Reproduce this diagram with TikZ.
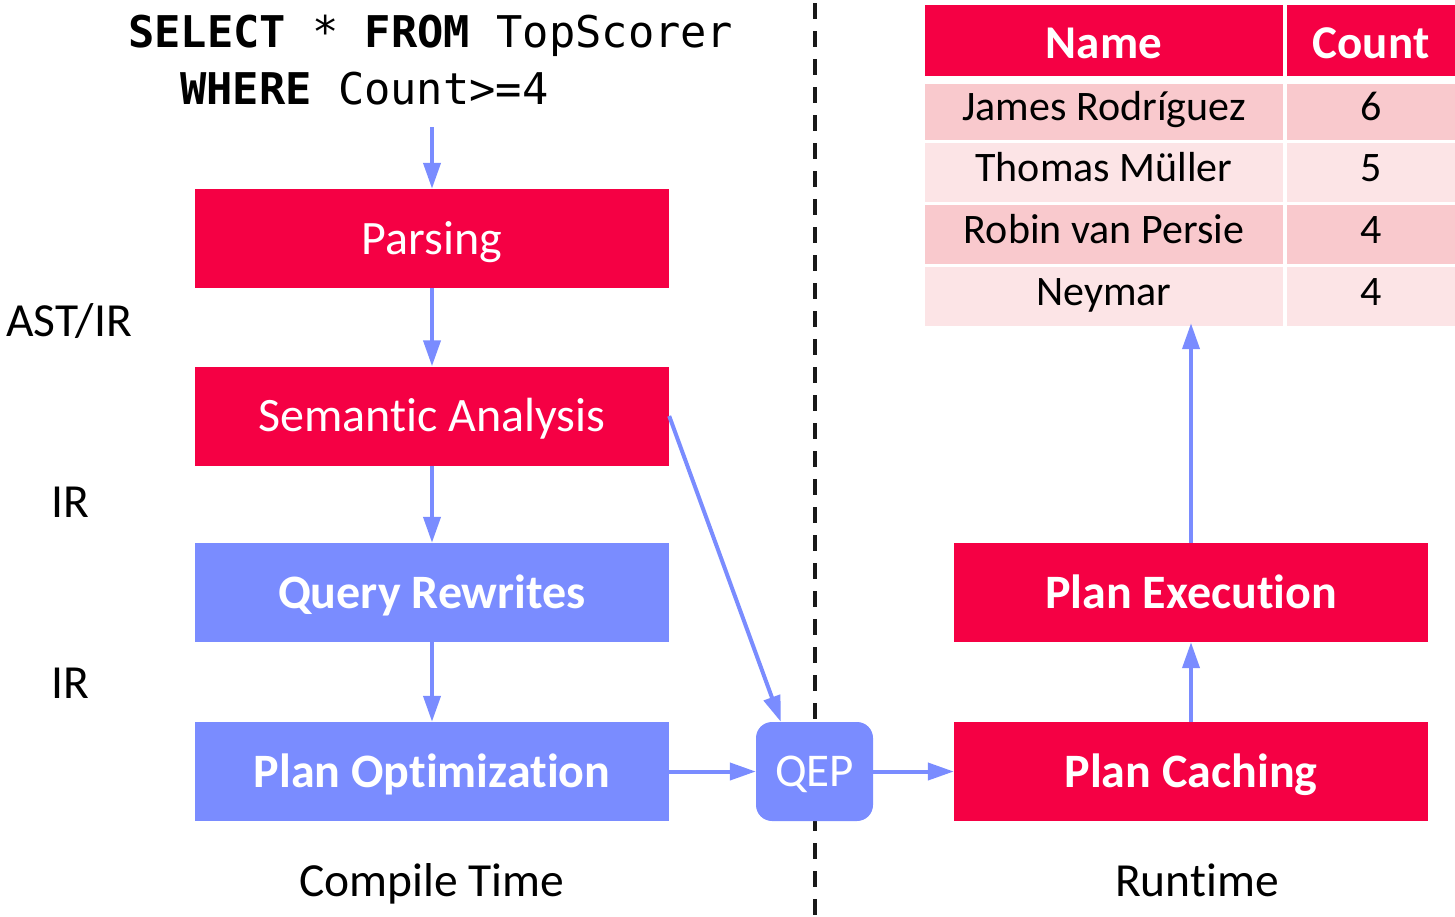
\documentclass[tikz,border=0pt]{standalone}
\usepackage{fontspec}
\setmainfont[Ligatures=NoCommon]{Carlito}
\newfontfamily\sqlfont{DejaVu Sans Mono}
\usetikzlibrary{arrows.meta}
\definecolor{qred}{RGB}{245,0,68}
\definecolor{qblue}{RGB}{122,140,255}
\definecolor{rowa}{RGB}{249,201,205}
\definecolor{rowb}{RGB}{252,228,230}
\begin{document}
\begin{tikzpicture}[x=1pt,y=-1pt,
  box/.style={rectangle, minimum width=474pt, minimum height=99pt, inner sep=0pt,
    text=white, text height=31pt, text depth=0pt},
  regtext/.style={font=\fontsize{48}{57}\selectfont},
  boldtext/.style={font=\fontsize{48}{57}\selectfont\bfseries},
  redbox/.style={box, fill=qred, regtext},
  redbold/.style={box, fill=qred, boldtext},
  bluebold/.style={box, fill=qblue, boldtext},
  qepbox/.style={rectangle, rounded corners=16pt, fill=qblue, minimum width=117pt,
    minimum height=99pt, inner sep=0pt, text=white, text height=30pt, text depth=0pt,
    font=\fontsize{47}{56}\selectfont},
  lbl/.style={inner sep=0pt, text height=30pt, text depth=0pt, font=\fontsize{47.5}{56}\selectfont},
  sqltext/.style={inner sep=0pt, anchor=base west, font=\sqlfont\fontsize{43.7}{52}\selectfont},
  hcell/.style={rectangle, fill=qred, inner sep=0pt, text=white, minimum height=71pt,
    text height=36pt, text depth=0pt, font=\fontsize{47}{56}\selectfont\bfseries},
  cell/.style={rectangle, inner sep=0pt, text height=26pt, text depth=9pt,
    font=\fontsize{42}{50}\selectfont},
  namecol/.style={minimum width=358pt},
  countcol/.style={minimum width=168pt},
  flow/.style={draw=qblue, line width=4pt, -{Triangle[length=26pt,width=17pt]}},
  divider/.style={draw=black!90, line width=3.5pt, dash pattern=on 16pt off 12pt}
]
\useasboundingbox (0,0) rectangle (1455,916);

% SQL query
\node[sqltext] (sql1) at (128,47) {\textbf{SELECT} * \textbf{FROM} TopScorer};
\node[sqltext] (sql2) at (180,104) {\textbf{WHERE} Count>=4};
\coordinate (sqlend) at (432,127);

% compile-time pipeline
\node[redbox] (parse) at (432,238.5) {Parsing};
\node[redbox] (sem) at (432,416) {Semantic Analysis};
\node[bluebold] (rew) at (432,592.5) {Query Rewrites};
\node[bluebold] (opt) at (432,771.5) {Plan Optimization};

% runtime
\node[redbold] (cache) at (1191,771.5) {Plan Caching};
\node[redbold] (exec) at (1191,592.5) {Plan Execution};

% labels
\node[lbl] (ast) at (69,321) {AST/IR};
\node[lbl] (ir1) at (70,502) {IR};
\node[lbl] (ir2) at (70,683) {IR};
\node[lbl] (ct) at (432,881) {Compile Time};
\node[lbl] (rt) at (1197,881) {Runtime};

% result table
\node[hcell, namecol] (hname) at (1104,40) {Name};
\node[hcell, countcol] (hcount) at (1371,40) {Count};
\node[cell, namecol, fill=rowa, minimum height=56pt] (n1) at (1104,112) {James Rodríguez};
\node[cell, countcol, fill=rowa, minimum height=56pt] (c1) at (1371,112) {6};
\node[cell, namecol, fill=rowb, minimum height=59pt] (n2) at (1104,172.5) {Thomas Müller};
\node[cell, countcol, fill=rowb, minimum height=59pt] (c2) at (1371,172.5) {5};
\node[cell, namecol, fill=rowa, minimum height=59pt] (n3) at (1104,234.5) {Robin van Persie};
\node[cell, countcol, fill=rowa, minimum height=59pt] (c3) at (1371,234.5) {4};
\node[cell, namecol, fill=rowb, minimum height=59pt] (n4) at (1104,296.5) {Neymar};
\node[cell, countcol, fill=rowb, minimum height=59pt] (c4) at (1371,296.5) {4};

% divider (behind the QEP box)
\coordinate (dtop) at (815,3);
\coordinate (dbot) at (815,916);
\draw[divider] (dtop) -- (dbot);
\node[qepbox] (qep) at (814.5,771.5) {QEP};

% connectors
\draw[flow] (sqlend) -- (parse.north);
\draw[flow] (parse.south) -- (sem.north);
\draw[flow] (sem.south) -- (rew.north);
\draw[flow] (rew.south) -- (opt.north);
\draw[flow] (opt.east) -- (qep.west);
\draw[flow] (qep.east) -- (cache.west);
\draw[flow] (sem.east) -- ([xshift=25pt]qep.north west);
\draw[flow] (cache.north) -- (exec.south);
\draw[flow] (exec.north) -- ([yshift=3pt]exec.north |- n4.south);
\end{tikzpicture}
\end{document}
